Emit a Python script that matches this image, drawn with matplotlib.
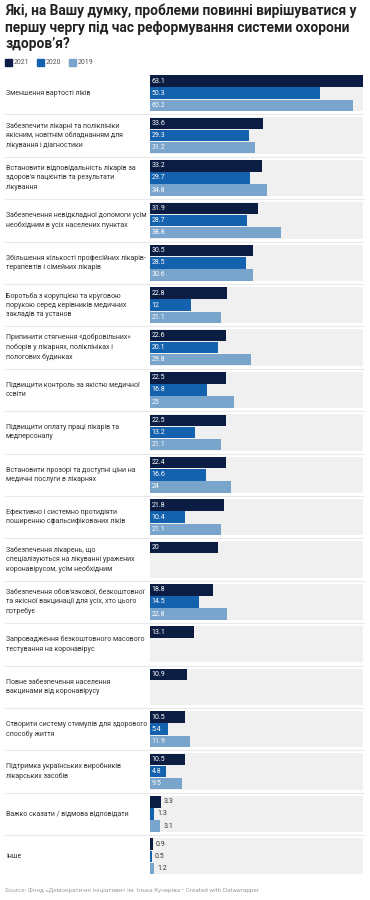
import matplotlib
matplotlib.use("Agg")
import matplotlib.pyplot as plt
import numpy as np

plt.rcParams['font.family'] = ['Roboto', 'DejaVu Sans']

# Chart data
title = "Які, на Вашу думку, проблеми повинні вирішуватися у\nпершу чергу під час реформування системи охорони\nздоров’я?"
years = ["2021", "2020", "2019"]
colors = ["#0b1d42", "#1461ad", "#79a4cc"]

categories = [
    "Зменшення вартості ліків",
    "Забезпечити лікарні та поліклініки\nякісним, новітнім обладнанням для\nлікування і діагностики",
    "Встановити відповідальність лікарів за\nздоров'я пацієнтів та результати\nлікування",
    "Забезпечення невідкладної допомоги усім\nнеобхідним в усіх населених пунктах",
    "Збільшення кількості професійних лікарів-\nтерапевтів і сімейних лікарів",
    "Боротьба з корупцією та круговою\nпорукою серед керівників медичних\nзакладів та установ",
    "Припинити стягнення «добровільних»\nпоборів у лікарнях, поліклініках і\nпологових будинках",
    "Підвищити контроль за якістю медичної\nосвіти",
    "Підвищити оплату праці лікарів та\nмедперсоналу",
    "Встановити прозорі та доступні ціни на\nмедичні послуги в лікарнях",
    "Ефективно і системно протидіяти\nпоширенню сфальсифікованих ліків",
    "Забезпечення лікарень, що\nспеціалізуються на лікуванні уражених\nкоронавірусом, усім необхідним",
    "Забезпечення обов'язкової, безкоштовної\nта якісної вакцинації для усіх, хто цього\nпотребує",
    "Запровадження безкоштовного масового\nтестування на коронавірус",
    "Повне забезпечення населення\nвакцинами від коронавірусу",
    "Створити систему стимулів для здорового\nспособу життя",
    "Підтримка українських виробників\nлікарських засобів",
    "Важко сказати / відмова відповідати",
    "Інше",
]

v2021 = [63.1, 33.6, 33.2, 31.9, 30.5, 22.8, 22.6, 22.5, 22.5, 22.4, 21.8, 20, 18.8, 13.1, 10.9, 10.5, 10.5, 3.3, 0.9]
v2020 = [50.3, 29.3, 29.7, 28.7, 28.5, 12, 20.1, 16.8, 13.2, 16.6, 10.4, None, 14.5, None, None, 5.4, 4.8, 1.3, 0.5]
v2019 = [60.2, 31.2, 34.8, 38.8, 30.6, 21.1, 29.8, 25, 21.1, 24, 21.1, None, 22.8, None, None, 11.9, 9.5, 3.1, 1.2]
series = [v2021, v2020, v2019]

source = "Source: Фонд «Демократичні ініціативи» ім. Ілька Кучеріва • Created with Datawrapper"

# Layout (pixels)
W, H = 370, 900
pitch = 42.4
bar_h = 12.1
top = 75
n = len(categories)
xmax = max(v2021)

fig = plt.figure(figsize=(W / 100, H / 100), dpi=100)
fig.patch.set_facecolor("white")

# overlay axes in pixel coordinates for text and rules
ov = fig.add_axes([0, 0, 1, 1])
ov.set_xlim(0, W)
ov.set_ylim(H, 0)
ov.axis("off")

ov.text(5, 4, title, fontsize=9.95, fontweight="bold", color="#222222",
        va="top", ha="left", linespacing=1.22)

# legend
lx = 5
for yr, c in zip(years, colors):
    ov.add_patch(plt.Rectangle((lx, 59), 7, 7, color=c))
    ov.text(lx + 9, 62.8, yr, fontsize=5, color="#555555", va="center")
    lx += 32

# bar axes
span = (n - 1) * pitch + 3 * bar_h
ax = fig.add_axes([150 / W, 1 - (top + span) / H, 213 / W, span / H])
ax.set_xlim(0, xmax)
ax.set_ylim(span, 0)
ax.axis("off")

group_top = np.arange(n) * pitch
ax.barh(group_top, xmax, height=3 * bar_h, align="edge", color="#f0f0f0", zorder=0)

px_per_unit = 213 / xmax
for j, (vals, c) in enumerate(zip(series, colors)):
    for i, v in enumerate(vals):
        if v is None:
            continue
        y = group_top[i] + j * bar_h
        ax.barh(y + 0.3, v, height=bar_h - 0.6, align="edge", color=c, zorder=2)
        label = f"{v:g}"
        if v >= 4:
            ax.text(1.6 / px_per_unit, y + bar_h / 2, label, fontsize=5, color="white",
                    va="center", ha="left", zorder=3)
        else:
            ax.text(v + 3 / px_per_unit, y + bar_h / 2, label, fontsize=5, color="#333333",
                    va="center", ha="left", zorder=3)

# category labels and separators
for i, cat in enumerate(categories):
    cy = top + group_top[i] + 1.5 * bar_h
    ov.text(6, cy, cat, fontsize=5, color="#333333", va="center", ha="left", linespacing=1.45)
    if i > 0:
        sy = top + group_top[i] - (pitch - 3 * bar_h) / 2
        ov.plot([5, 363], [sy, sy], color="#e8e8e8", lw=0.8)

ov.text(5, 890, source, fontsize=4.6, color="#a0a0a0", va="center", ha="left")

fig.savefig("out.png", dpi=100)
